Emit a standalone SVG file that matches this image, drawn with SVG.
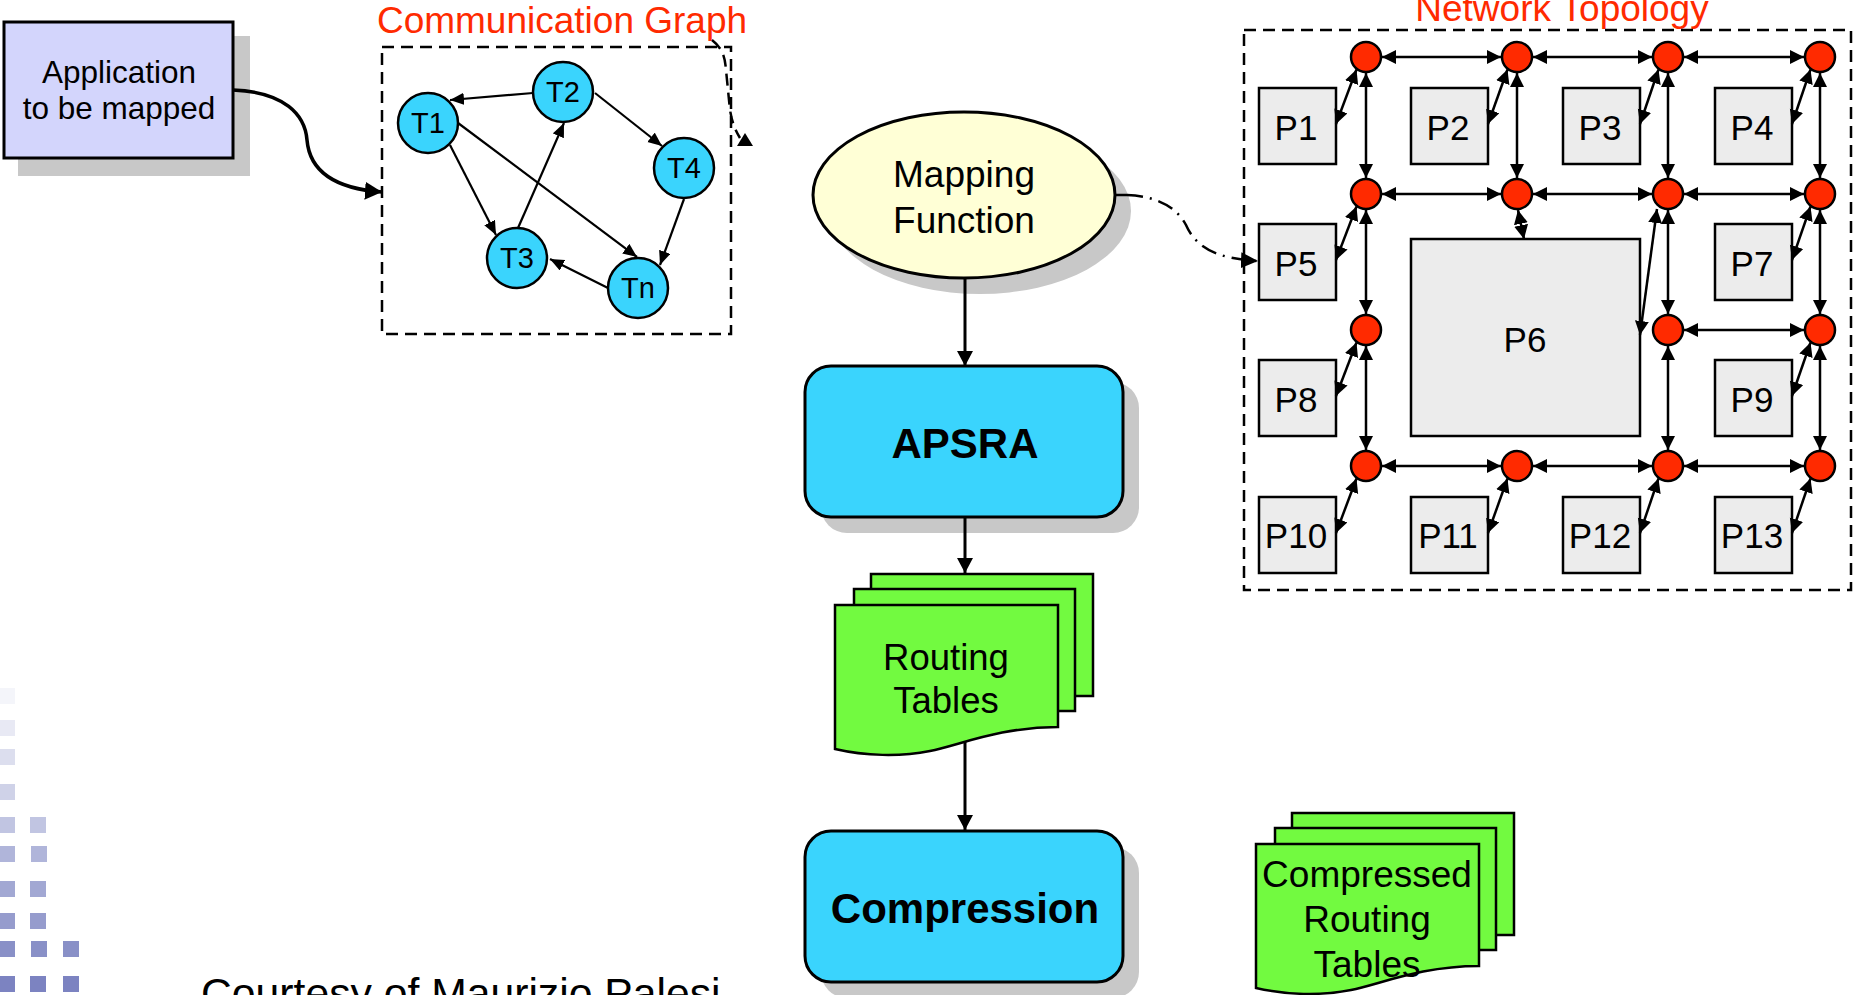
<svg xmlns="http://www.w3.org/2000/svg" width="1854" height="995" viewBox="0 0 1854 995">
<style>
text{font-family:"Liberation Sans",Arial,sans-serif;fill:#000}
.shadow{fill:#c8c8c8;stroke:none}
.task{fill:#3ad4fd;stroke:#000;stroke-width:2.5}
.tl{font-size:29px;text-anchor:middle}
.pe{fill:#ececec;stroke:#000;stroke-width:2.5}
.pl{font-size:35px;text-anchor:middle}
.rt{fill:#ff2a00;stroke:#000;stroke-width:2.5}
.sheet{fill:#72fa40;stroke:#000;stroke-width:2.5}
.dash{fill:none;stroke:#000;stroke-width:2.5;stroke-dasharray:12 7}
.red{fill:#ff2a00;font-size:37px;text-anchor:middle}
.ge{fill:none;stroke:#000;stroke-width:2.2;marker-end:url(#ag)}
.nl{fill:none;stroke:#000;stroke-width:2.5;marker-start:url(#an);marker-end:url(#an)}
.flow{fill:none;stroke:#000;stroke-width:3;marker-end:url(#af)}
.sq{stroke:none}
</style>
<defs>
<marker id="ag" markerUnits="userSpaceOnUse" markerWidth="15" markerHeight="13" refX="14" refY="6" orient="auto"><path d="M0,0 L14,6 L0,12 z" fill="#000"/></marker>
<marker id="an" markerUnits="userSpaceOnUse" markerWidth="16" markerHeight="16" refX="14" refY="7" orient="auto-start-reverse"><path d="M0,0 L14,7 L0,14 z" fill="#000"/></marker>
<marker id="af" markerUnits="userSpaceOnUse" markerWidth="16" markerHeight="18" refX="15" refY="8" orient="auto"><path d="M0,0 L15,8 L0,16 z" fill="#000"/></marker>
<marker id="aa" markerUnits="userSpaceOnUse" markerWidth="18" markerHeight="20" refX="17" refY="9" orient="auto"><path d="M0,0 L17,9 L0,18 z" fill="#000"/></marker>
<marker id="ad" markerUnits="userSpaceOnUse" markerWidth="18" markerHeight="18" refX="17" refY="8" orient="auto"><path d="M0,0 L17,8 L0,16 z" fill="#000"/></marker>
</defs>

<!-- decorative squares -->
<g id="decor">
<rect class="sq" x="0" y="688" width="15" height="16" fill="#f4f5fa"/>
<rect class="sq" x="0" y="720" width="15" height="16" fill="#e8e9f4"/>
<rect class="sq" x="0" y="749" width="15" height="16" fill="#dcdeee"/>
<rect class="sq" x="0" y="784" width="15" height="16" fill="#cfd2e8"/>
<rect class="sq" x="0" y="817" width="15" height="16" fill="#c1c5e2"/>
<rect class="sq" x="30" y="817" width="16" height="16" fill="#c1c5e2"/>
<rect class="sq" x="0" y="846" width="15" height="16" fill="#b0b5da"/>
<rect class="sq" x="31" y="846" width="16" height="16" fill="#b0b5da"/>
<rect class="sq" x="0" y="881" width="15" height="16" fill="#a2a8d3"/>
<rect class="sq" x="30" y="881" width="16" height="16" fill="#a2a8d3"/>
<rect class="sq" x="0" y="913" width="15" height="16" fill="#969ccd"/>
<rect class="sq" x="30" y="913" width="16" height="16" fill="#969ccd"/>
<rect class="sq" x="0" y="941" width="15" height="16" fill="#8990c7"/>
<rect class="sq" x="31" y="941" width="16" height="16" fill="#8990c7"/>
<rect class="sq" x="63" y="941" width="16" height="16" fill="#8990c7"/>
<rect class="sq" x="0" y="976" width="15" height="16" fill="#7c83c1"/>
<rect class="sq" x="30" y="976" width="16" height="16" fill="#7c83c1"/>
<rect class="sq" x="63" y="976" width="16" height="16" fill="#7c83c1"/>
</g>

<g id="application">
<rect class="shadow" x="18" y="36" width="232" height="140"/>
<rect x="4" y="22" width="229" height="136" fill="#d3d5fc" stroke="#000" stroke-width="3"/>
<text x="119" y="83" font-size="31.5" text-anchor="middle">Application</text>
<text x="119" y="119" font-size="31.5" text-anchor="middle">to be mapped</text>
</g>

<g id="communication-graph">
<text class="red" x="562" y="33">Communication Graph</text>
<rect class="dash" x="382" y="47" width="349" height="287"/>
</g>

<g id="T1"><circle class="task" cx="428" cy="123" r="30"/><text class="tl" x="428" y="133">T1</text></g>
<g id="T2"><circle class="task" cx="563" cy="92" r="30"/><text class="tl" x="563" y="102">T2</text></g>
<g id="T4"><circle class="task" cx="684" cy="168" r="30"/><text class="tl" x="684" y="178">T4</text></g>
<g id="T3"><circle class="task" cx="517" cy="258" r="30"/><text class="tl" x="517" y="268">T3</text></g>
<g id="Tn"><circle class="task" cx="638" cy="288" r="30"/><text class="tl" x="638" y="298">Tn</text></g>

<g id="mapping-function">
<ellipse class="shadow" cx="980" cy="211" rx="151" ry="83"/>
<ellipse cx="964" cy="195" rx="151" ry="83" fill="#ffffd6" stroke="#000" stroke-width="3"/>
<text x="964" y="187" font-size="37" text-anchor="middle">Mapping</text>
<text x="964" y="233" font-size="37" text-anchor="middle">Function</text>
</g>

<g id="apsra">
<rect class="shadow" x="821" y="382" width="318" height="151" rx="26"/>
<rect x="805" y="366" width="318" height="151" rx="26" fill="#3ad4fd" stroke="#000" stroke-width="3"/>
<text x="965" y="458" font-size="42" font-weight="bold" text-anchor="middle">APSRA</text>
</g>

<g id="routing-tables">
<rect class="sheet" x="871" y="574" width="222" height="122"/>
<rect class="sheet" x="854" y="589" width="221" height="122"/>
<path class="sheet" d="M835,605 H1058 V727 C1000,727 960,745 930,751 C900,757 865,756 835,749 Z"/>
<text x="946" y="670" font-size="36.5" text-anchor="middle">Routing</text>
<text x="946" y="713" font-size="36.5" text-anchor="middle">Tables</text>
</g>

<g id="compression">
<rect class="shadow" x="821" y="847" width="318" height="151" rx="26"/>
<rect x="805" y="831" width="318" height="151" rx="26" fill="#3ad4fd" stroke="#000" stroke-width="3"/>
<text x="965" y="923" font-size="42" font-weight="bold" text-anchor="middle">Compression</text>
</g>

<g id="compressed-routing-tables">
<rect class="sheet" x="1292" y="813" width="222" height="122"/>
<rect class="sheet" x="1275" y="828" width="221" height="122"/>
<path class="sheet" d="M1256,844 H1479 V966 C1421,966 1381,984 1351,990 C1321,996 1286,995 1256,988 Z"/>
<text x="1367" y="887" font-size="37" text-anchor="middle">Compressed</text>
<text x="1367" y="932" font-size="37" text-anchor="middle">Routing</text>
<text x="1367" y="977" font-size="37" text-anchor="middle">Tables</text>
</g>

<g id="network-topology">
<text class="red" x="1562" y="21">Network Topology</text>
<rect class="dash" x="1244" y="30" width="607" height="560"/>
</g>

<g id="P1"><rect class="pe" x="1259" y="88" width="77" height="76"/><text class="pl" x="1296" y="140">P1</text></g>
<g id="P2"><rect class="pe" x="1411" y="88" width="77" height="76"/><text class="pl" x="1448" y="140">P2</text></g>
<g id="P3"><rect class="pe" x="1563" y="88" width="77" height="76"/><text class="pl" x="1600" y="140">P3</text></g>
<g id="P4"><rect class="pe" x="1715" y="88" width="77" height="76"/><text class="pl" x="1752" y="140">P4</text></g>
<g id="P5"><rect class="pe" x="1259" y="224" width="77" height="76"/><text class="pl" x="1296" y="276">P5</text></g>
<g id="P6"><rect class="pe" x="1411" y="239" width="229" height="197"/><text class="pl" x="1525" y="352">P6</text></g>
<g id="P7"><rect class="pe" x="1715" y="224" width="77" height="76"/><text class="pl" x="1752" y="276">P7</text></g>
<g id="P8"><rect class="pe" x="1259" y="360" width="77" height="76"/><text class="pl" x="1296" y="412">P8</text></g>
<g id="P9"><rect class="pe" x="1715" y="360" width="77" height="76"/><text class="pl" x="1752" y="412">P9</text></g>
<g id="P10"><rect class="pe" x="1259" y="497" width="77" height="76"/><text class="pl" x="1296" y="548">P10</text></g>
<g id="P11"><rect class="pe" x="1411" y="497" width="77" height="76"/><text class="pl" x="1448" y="548">P11</text></g>
<g id="P12"><rect class="pe" x="1563" y="497" width="77" height="76"/><text class="pl" x="1600" y="548">P12</text></g>
<g id="P13"><rect class="pe" x="1715" y="497" width="77" height="76"/><text class="pl" x="1752" y="548">P13</text></g>

<g id="routers">
<circle id="R00" class="rt" cx="1366" cy="57" r="15"/>
<circle id="R01" class="rt" cx="1517" cy="57" r="15"/>
<circle id="R02" class="rt" cx="1668" cy="57" r="15"/>
<circle id="R03" class="rt" cx="1820" cy="57" r="15"/>
<circle id="R10" class="rt" cx="1366" cy="194" r="15"/>
<circle id="R11" class="rt" cx="1517" cy="194" r="15"/>
<circle id="R12" class="rt" cx="1668" cy="194" r="15"/>
<circle id="R13" class="rt" cx="1820" cy="194" r="15"/>
<circle id="R20" class="rt" cx="1366" cy="330" r="15"/>
<circle id="R22" class="rt" cx="1668" cy="330" r="15"/>
<circle id="R23" class="rt" cx="1820" cy="330" r="15"/>
<circle id="R30" class="rt" cx="1366" cy="466" r="15"/>
<circle id="R31" class="rt" cx="1517" cy="466" r="15"/>
<circle id="R32" class="rt" cx="1668" cy="466" r="15"/>
<circle id="R33" class="rt" cx="1820" cy="466" r="15"/>
</g>

<g id="connectors">
<path d="M233,90 C285,92 305,115 307,140 C310,175 340,189 382,192" fill="none" stroke="#000" stroke-width="3.5" marker-end="url(#aa)"/>
<path d="M712,40 C722,48 725,56 726,70 L730,110 C732,122 735,130 740,138" fill="none" stroke="#000" stroke-width="2.5" stroke-dasharray="12 7"/>
<polygon points="745,133 753,146 737,146" fill="#000"/>
<line class="ge" x1="533" y1="93" x2="450" y2="100"/>
<line class="ge" x1="595" y1="93" x2="662" y2="146"/>
<line class="ge" x1="450" y1="145" x2="496" y2="235"/>
<line class="ge" x1="518" y1="228" x2="564" y2="123"/>
<line class="ge" x1="458" y1="123" x2="637" y2="257"/>
<line class="ge" x1="684" y1="199" x2="660" y2="265"/>
<line class="ge" x1="608" y1="288" x2="550" y2="259"/>
<line class="flow" x1="965" y1="278" x2="965" y2="366"/>
<line class="flow" x1="965" y1="517" x2="965" y2="573"/>
<line class="flow" x1="965" y1="742" x2="965" y2="830"/>
<path d="M1116,195 H1127" fill="none" stroke="#000" stroke-width="2.5"/>
<path d="M1127,195 C1155,196 1176,206 1186,225 C1196,248 1218,259 1258,261" fill="none" stroke="#000" stroke-width="2.5" stroke-dasharray="16 7 2 7" marker-end="url(#ad)"/>
<line class="nl" x1="1382" y1="57" x2="1501" y2="57"/>
<line class="nl" x1="1533" y1="57" x2="1652" y2="57"/>
<line class="nl" x1="1684" y1="57" x2="1804" y2="57"/>
<line class="nl" x1="1382" y1="194" x2="1501" y2="194"/>
<line class="nl" x1="1533" y1="194" x2="1652" y2="194"/>
<line class="nl" x1="1684" y1="194" x2="1804" y2="194"/>
<line class="nl" x1="1684" y1="330" x2="1804" y2="330"/>
<line class="nl" x1="1382" y1="466" x2="1501" y2="466"/>
<line class="nl" x1="1533" y1="466" x2="1652" y2="466"/>
<line class="nl" x1="1684" y1="466" x2="1804" y2="466"/>
<line class="nl" x1="1366" y1="73" x2="1366" y2="178"/>
<line class="nl" x1="1366" y1="210" x2="1366" y2="314"/>
<line class="nl" x1="1366" y1="346" x2="1366" y2="450"/>
<line class="nl" x1="1517" y1="73" x2="1517" y2="178"/>
<line class="nl" x1="1668" y1="73" x2="1668" y2="178"/>
<line class="nl" x1="1668" y1="210" x2="1668" y2="314"/>
<line class="nl" x1="1668" y1="346" x2="1668" y2="450"/>
<line class="nl" x1="1820" y1="73" x2="1820" y2="178"/>
<line class="nl" x1="1820" y1="210" x2="1820" y2="314"/>
<line class="nl" x1="1820" y1="346" x2="1820" y2="450"/>
<line class="nl" x1="1518" y1="210" x2="1524" y2="239"/>
<line class="nl" x1="1657" y1="209" x2="1640" y2="335"/>
<line class="nl" x1="1336" y1="124" x2="1356.5" y2="69.5"/>
<line class="nl" x1="1488" y1="124" x2="1507.5" y2="69.5"/>
<line class="nl" x1="1640" y1="124" x2="1658.5" y2="69.5"/>
<line class="nl" x1="1792" y1="124" x2="1810.5" y2="69.5"/>
<line class="nl" x1="1336" y1="260" x2="1356.5" y2="206.5"/>
<line class="nl" x1="1792" y1="260" x2="1810.5" y2="206.5"/>
<line class="nl" x1="1336" y1="396" x2="1356.5" y2="342.5"/>
<line class="nl" x1="1792" y1="396" x2="1810.5" y2="342.5"/>
<line class="nl" x1="1336" y1="533" x2="1356.5" y2="478.5"/>
<line class="nl" x1="1488" y1="533" x2="1507.5" y2="478.5"/>
<line class="nl" x1="1640" y1="533" x2="1658.5" y2="478.5"/>
<line class="nl" x1="1792" y1="533" x2="1810.5" y2="478.5"/>
</g>

<text x="201" y="1008" font-size="42.7">Courtesy of Maurizio Palesi</text>
</svg>
